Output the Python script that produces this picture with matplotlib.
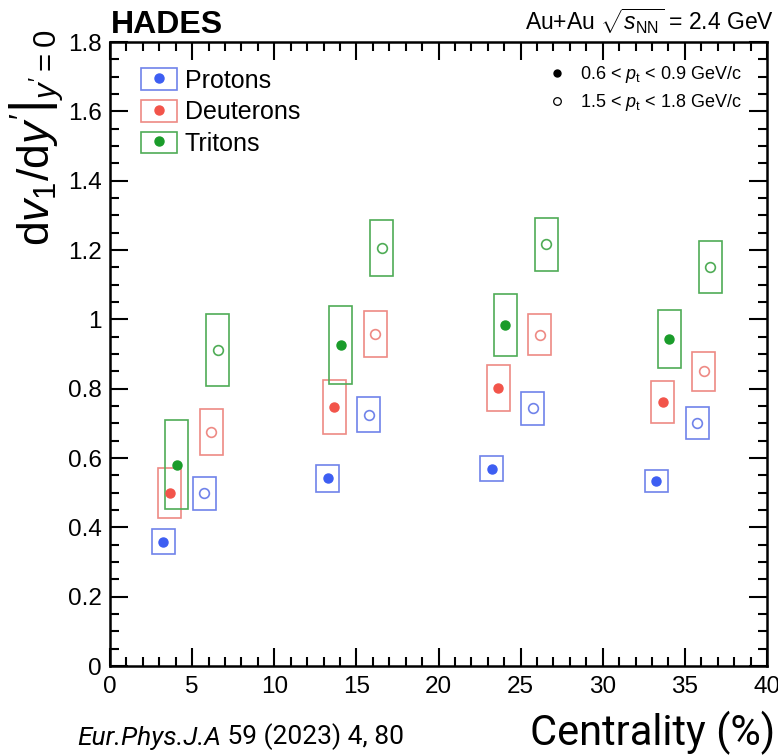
import matplotlib
matplotlib.use('Agg')
import matplotlib.pyplot as plt
import numpy as np
from matplotlib.lines import Line2D
from matplotlib.patches import Patch
from matplotlib.legend_handler import HandlerTuple
from matplotlib.ticker import MultipleLocator, FuncFormatter

plt.rcParams['font.family'] = ['Liberation Sans', 'DejaVu Sans']
plt.rcParams['mathtext.fontset'] = 'custom'
plt.rcParams['mathtext.rm'] = 'Liberation Sans'
plt.rcParams['mathtext.it'] = 'Liberation Sans:italic'
plt.rcParams['mathtext.bf'] = 'Liberation Sans:bold'

# centrality bin centres (%)
centrality = np.array([5, 15, 25, 35])
species = ['Protons', 'Deuterons', 'Tritons']
colors = ['#3d5ef2', '#f2544a', '#1a9c2a']
box_colors = ['#7083ea', '#ee8a84', '#4fac56']

# dv1/dy' at midrapidity, 0.6 < pt < 0.9 GeV/c
low_pt = [
    [0.358, 0.541, 0.569, 0.534],
    [0.498, 0.746, 0.801, 0.761],
    [0.581, 0.926, 0.983, 0.943],
]
low_pt_sys = [
    [0.036, 0.040, 0.036, 0.031],
    [0.072, 0.078, 0.066, 0.060],
    [0.128, 0.112, 0.090, 0.083],
]
# 1.5 < pt < 1.8 GeV/c
high_pt = [
    [0.498, 0.725, 0.743, 0.702],
    [0.675, 0.958, 0.956, 0.850],
    [0.912, 1.205, 1.216, 1.151],
]
high_pt_sys = [
    [0.047, 0.050, 0.048, 0.046],
    [0.067, 0.066, 0.060, 0.057],
    [0.103, 0.081, 0.076, 0.076],
]

# horizontal shifts so the points don't overlap
low_shift = [-1.75, -1.35, -0.95]
high_shift = [0.75, 1.15, 1.55]
box_w = 1.4

fig = plt.figure(figsize=(7.78, 7.56), dpi=100)
ax = fig.add_axes([0.1414, 0.1190, 0.8445, 0.8254])

for i in range(3):
    xl = centrality + low_shift[i]
    xh = centrality + high_shift[i]
    yl = np.array(low_pt[i]); sl = np.array(low_pt_sys[i])
    yh = np.array(high_pt[i]); sh = np.array(high_pt_sys[i])
    # systematic uncertainty boxes
    ax.bar(xl, 2 * sl, bottom=yl - sl, width=box_w, fill=False,
           edgecolor=box_colors[i], linewidth=1.2, zorder=2)
    ax.bar(xh, 2 * sh, bottom=yh - sh, width=box_w, fill=False,
           edgecolor=box_colors[i], linewidth=1.2, zorder=2)
    ax.plot(xl, yl, 'o', color=colors[i], markersize=6.5, zorder=3)
    ax.plot(xh, yh, 'o', mfc='none', mec=box_colors[i], mew=1.2,
            markersize=7, zorder=3)

ax.set_xlim(0, 40)
ax.set_ylim(0, 1.8)
ax.xaxis.set_major_locator(MultipleLocator(5))
ax.xaxis.set_minor_locator(MultipleLocator(1))
ax.yaxis.set_major_locator(MultipleLocator(0.2))
ax.yaxis.set_minor_locator(MultipleLocator(0.05))
ax.yaxis.set_major_formatter(FuncFormatter(lambda v, p: f'{v:g}'))
ax.tick_params(which='both', direction='in', top=True, right=True,
               width=1.5, labelsize=17.5)
ax.tick_params(which='major', length=13)
ax.tick_params(which='minor', length=6.5)
ax.tick_params(axis='x', pad=7)
ax.tick_params(axis='y', pad=6)
for s in ax.spines.values():
    s.set_linewidth(1.8)

# species legend: open box with a dot drawn on top
sp_handles = [(Patch(facecolor='none', edgecolor=box_colors[i], linewidth=1.2),
               Line2D([], [], marker='o', ls='none', color=colors[i], markersize=6.5))
              for i in range(3)]
leg1 = ax.legend(sp_handles, species, loc='upper left',
                 bbox_to_anchor=(0.047, 0.958), frameon=False, fontsize=18,
                 handlelength=1.44, handleheight=0.96, handletextpad=0.32,
                 labelspacing=0.29, borderpad=0, borderaxespad=0,
                 handler_map={tuple: HandlerTuple(ndivide=1, pad=0)})
ax.add_artist(leg1)

pt_handles = [Line2D([], [], marker='o', ls='none', color='black', markersize=5),
              Line2D([], [], marker='o', ls='none', mfc='none', mec='black',
                     mew=0.9, markersize=5.5)]
pt_labels = [r'0.6 < $\mathit{p}_{\rm t}$ < 0.9 GeV/c',
             r'1.5 < $\mathit{p}_{\rm t}$ < 1.8 GeV/c']
ax.legend(pt_handles, pt_labels, loc='upper right',
          bbox_to_anchor=(0.962, 0.965), frameon=False, fontsize=13,
          handlelength=1.0, handletextpad=0.8, labelspacing=0.4,
          borderpad=0, borderaxespad=0)

fig.text(0.1427, 0.956, 'HADES', fontsize=23, fontweight='bold',
         ha='left', va='baseline')
fig.text(0.995, 0.960, r'Au+Au $\sqrt{s_{\rm NN}}$ = 2.4 GeV', fontsize=16.5,
         ha='right', va='baseline')
fig.text(0.047, 0.96, r'$\left.\mathrm{d}v_{1}/\mathrm{d}y^{\prime}\right|_{y^{\prime}=0}$',
         fontsize=32, rotation=90, ha='center', va='top')
fig.text(0.997, 0.0146, 'Centrality (%)', fontsize=30, family=['Roboto', 'DejaVu Sans'],
         ha='right', va='baseline')

# journal reference: italic journal name followed by upright volume/page
cite = fig.text(0.099, 0.0146, 'Eur.Phys.J.A', fontsize=19, style='italic',
                family=['Roboto', 'DejaVu Sans'], ha='left', va='baseline')
ax.annotate(' 59 (2023) 4, 80', xy=(1, 0), xycoords=cite, ha='left', va='bottom',
            fontsize=19, family=['Roboto', 'DejaVu Sans'], annotation_clip=False)

fig.savefig('out.png', dpi=100)
